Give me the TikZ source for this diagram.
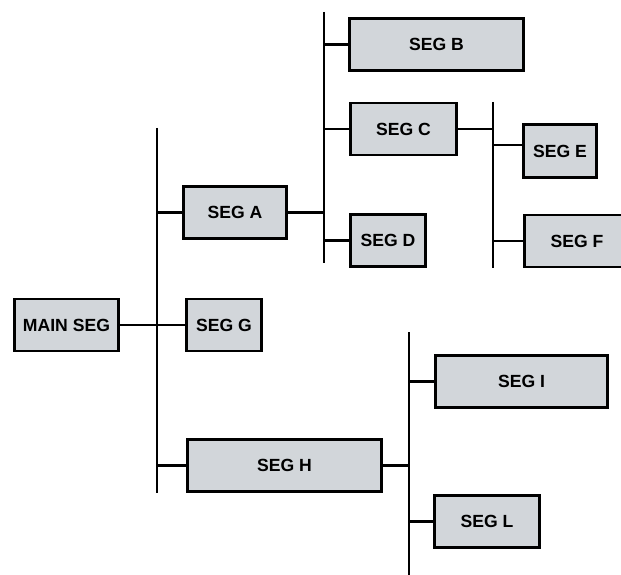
\documentclass[tikz,border=0pt]{standalone}
\usepackage{fontspec}
\setmainfont{Liberation Sans}
\usepackage{tikz}
\usetikzlibrary{calc, positioning}
\definecolor{segfill}{HTML}{D2D6DA}

\begin{document}
\begin{tikzpicture}[x=1pt,y=-1pt,
        seg/.style={draw,line width=2.8pt,fill=segfill,inner sep=0pt,
            minimum height=52pt,font=\fontsize{17.6}{20}\selectfont\bfseries},
        bus/.style={line width=2.2pt},
        link/.style={line width=2.2pt}]
            \clip (0,0) rectangle (621,575); %枠
            % ノード
            \node[seg,minimum width=104pt] (main) at (66.5,325) {MAIN SEG};
            \node[seg,minimum width=75pt] (g) at (224,325) {SEG G};
            \node[seg,minimum width=103pt] (a) at (235,212.5) {SEG A};
            \node[seg,minimum width=174pt] (b) at (436.5,44.5) {SEG B};
            \node[seg,minimum width=106pt] (c) at (403.5,129) {SEG C};
            \node[seg,minimum width=75pt] (d) at (388,240.5) {SEG D};
            \node[seg,minimum width=73pt,minimum height=53pt] (e) at (560,151) {SEG E};
            \node[seg,minimum width=105pt] (f) at (577,241) {SEG F};
            \node[seg,minimum width=194pt] (h) at (284.5,465.5) {SEG H};
            \node[seg,minimum width=172pt] (i) at (521.5,381.5) {SEG I};
            \node[seg,minimum width=105pt] (l) at (487,521.5) {SEG L};
            % 縦線
            \coordinate (b1t) at (157,128); \coordinate (b1b) at (157,493);
            \coordinate (b2t) at (324,12);  \coordinate (b2b) at (324,263);
            \coordinate (b3t) at (493,102); \coordinate (b3b) at (493,268);
            \coordinate (b4t) at (409,332); \coordinate (b4b) at (409,575);
            \draw[bus] (b1t) -- (b1b);
            \draw[bus] (b2t) -- (b2b);
            \draw[bus] (b3t) -- (b3b);
            \draw[bus] (b4t) -- (b4b);
            % 横線
            \draw[link] (main.east) -- (g.west);
            \draw[link] (a.west -| b1t) -- (a.west);
            \draw[link] (h.west -| b1t) -- (h.west);
            \draw[link] (a.east) -- (a.east -| b2t);
            \draw[link] (b.west -| b2t) -- (b.west);
            \draw[link] (c.west -| b2t) -- (c.west);
            \draw[link] (d.west -| b2t) -- (d.west);
            \draw[link] (c.east) -- (c.east -| b3t);
            \draw[link] ([yshift=6pt]e.west -| b3t) -- ([yshift=6pt]e.west);
            \draw[link] (f.west -| b3t) -- (f.west);
            \draw[link] (h.east) -- (h.east -| b4t);
            \draw[link] (i.west -| b4t) -- (i.west);
            \draw[link] (l.west -| b4t) -- (l.west);
        \end{tikzpicture}
\end{document}
